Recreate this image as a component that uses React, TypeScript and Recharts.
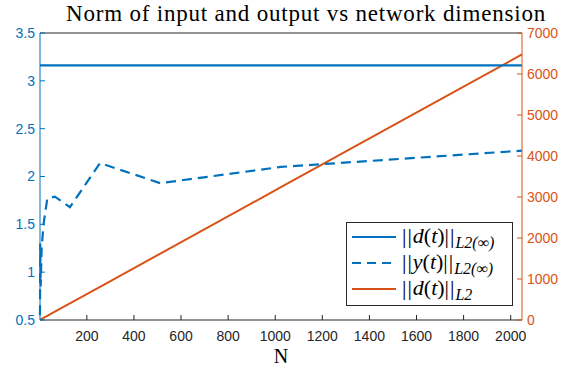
import React from 'react';
import { LineChart, Line, XAxis, YAxis } from 'recharts';

const dims = [1, 2, 4, 8, 16, 32, 64, 128, 256, 512, 1024, 2048];
const dInfNorm = [3.162, 3.162, 3.162, 3.162, 3.162, 3.162, 3.162, 3.162, 3.162, 3.162, 3.162, 3.162];
const yInfNorm = [0.55, 1.3, 0.85, 1.25, 1.5, 1.77, 1.79, 1.68, 2.14, 1.93, 2.1, 2.27];
const dL2Norm = [3.2, 6.3, 12.6, 25.3, 50.6, 101, 202, 405, 809, 1619, 3238, 6476];

const xTicks = [200, 400, 600, 800, 1000, 1200, 1400, 1600, 1800, 2000];
const leftTicks = [0.5, 1, 1.5, 2, 2.5, 3, 3.5];
const rightTicks = [0, 1000, 2000, 3000, 4000, 5000, 6000, 7000];

const data = dims.map((n, i) => ({ n, dInf: dInfNorm[i], yInf: yInfNorm[i], dL2: dL2Norm[i] }));

const BLUE = '#0072BD';
const ORANGE = '#D95319';
const DARK = '#262626';
const tickFont = { fontFamily: 'Liberation Sans, Arial, sans-serif', fontSize: 14 };
const serif = 'Liberation Serif, Times New Roman, serif';

const Norm = ({ v, sub }: { v: string; sub: string }) => (
  <span style={{ fontFamily: serif, fontSize: 22, whiteSpace: 'nowrap' }}>
    <span style={{ letterSpacing: 1 }}>||</span>
    <i>{v}</i>(<i>t</i>)<span style={{ letterSpacing: 1 }}>||</span>
    <sub style={{ fontSize: 16, fontStyle: 'italic', verticalAlign: '-5px' }}>{sub}</sub>
  </span>
);

const legendItems = [
  { color: BLUE, dash: undefined, v: 'd', sub: 'L2(∞)' },
  { color: BLUE, dash: '9 6', v: 'y', sub: 'L2(∞)' },
  { color: ORANGE, dash: undefined, v: 'd', sub: 'L2' },
];

const App: React.FC = () => {
  return (
    <div style={{ position: 'absolute', left: 0, top: 0, width: 574, height: 375, background: '#fff' }}>
      <div
        style={{
          position: 'absolute',
          left: 0,
          width: 612,
          top: 0,
          textAlign: 'center',
          fontFamily: serif,
          fontSize: 23,
          letterSpacing: 0.8,
          color: '#000',
          lineHeight: '28px',
        }}
      >
        Norm of input and output vs network dimension
      </div>
      <LineChart width={574} height={375} data={data} margin={{ top: 32, right: 0, bottom: 0, left: 0 }}>
        <XAxis
          xAxisId="bottom"
          dataKey="n"
          type="number"
          domain={[1, 2048]}
          ticks={xTicks}
          stroke={DARK}
          tick={{ ...tickFont, fill: DARK }}
          tickSize={-5}
          tickMargin={16}
          height={55}
          label={{ value: 'N', position: 'insideBottom', offset: 12, fontFamily: serif, fontSize: 20, fill: '#000' }}
        />
        <XAxis
          xAxisId="top"
          orientation="top"
          dataKey="n"
          type="number"
          domain={[1, 2048]}
          ticks={xTicks}
          stroke={DARK}
          tick={false}
          tickSize={-5}
          height={1}
        />
        <YAxis
          yAxisId="left"
          domain={[0.5, 3.5]}
          ticks={leftTicks}
          stroke={BLUE}
          tick={{ ...tickFont, fill: BLUE }}
          tickSize={-5}
          tickMargin={10}
          width={40}
        />
        <YAxis
          yAxisId="right"
          orientation="right"
          domain={[0, 7000]}
          ticks={rightTicks}
          stroke={ORANGE}
          tick={{ ...tickFont, fill: ORANGE }}
          tickSize={-5}
          tickMargin={10}
          width={52}
        />
        <Line xAxisId="bottom" yAxisId="right" dataKey="dL2" stroke={ORANGE} strokeWidth={2} dot={false} isAnimationActive={false} />
        <Line xAxisId="bottom" yAxisId="left" dataKey="yInf" stroke={BLUE} strokeWidth={2.2} strokeDasharray="10 6" dot={false} isAnimationActive={false} />
        <Line xAxisId="bottom" yAxisId="left" dataKey="dInf" stroke={BLUE} strokeWidth={2.2} dot={false} isAnimationActive={false} />
      </LineChart>
      <div
        style={{
          position: 'absolute',
          left: 346,
          top: 222,
          width: 167,
          height: 84,
          border: `1px solid ${DARK}`,
          background: '#fff',
          padding: '1px 0 0 5px',
          boxSizing: 'border-box',
        }}
      >
        {legendItems.map((it, i) => (
          <div key={i} style={{ display: 'flex', alignItems: 'center', height: 26 }}>
            <svg width={46} height={10} style={{ marginRight: 4 }}>
              <line x1={0} y1={5} x2={44} y2={5} stroke={it.color} strokeWidth={2.2} strokeDasharray={it.dash} />
            </svg>
            <Norm v={it.v} sub={it.sub} />
          </div>
        ))}
      </div>
    </div>
  );
};

export default App;
